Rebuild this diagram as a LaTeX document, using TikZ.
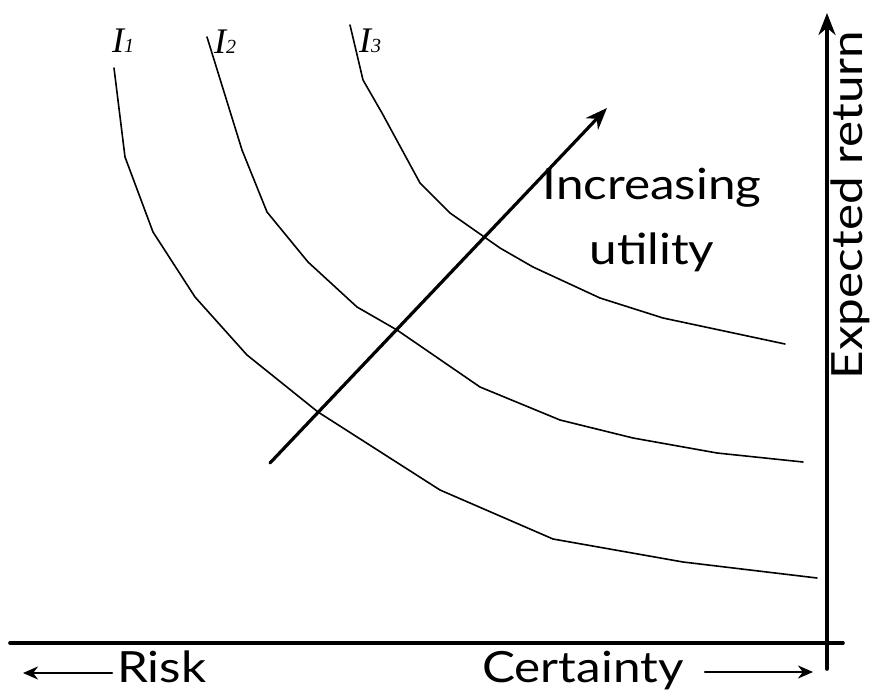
\documentclass[tikz,border=0pt]{standalone}
\usepackage{fontspec}
\setmainfont{Lato}[FakeStretch=1.15]
\newfontfamily\timesfont{Liberation Serif}
\usepackage{tikz}
\usetikzlibrary{arrows.meta}
\usepackage{tkz-euclide}

\tikzset{
  curve/.style={line width=1.6pt, line join=round},
  axisline/.style={line width=3.6pt},
  bigtip/.style={-{Stealth[length=22pt, width=17pt]}},
  smalltip/.style={line width=2.6pt, -{Stealth[length=15pt, width=13pt]}},
  txt/.style={inner sep=0pt, font=\fontsize{43}{60}\selectfont},
  ilabel/.style={anchor=base west, inner sep=0pt, font=\timesfont\itshape\fontsize{36}{38}\selectfont}
}
\newcommand{\indiff}[1]{I{\fontsize{20}{20}\selectfont #1}}

\begin{document}
\begin{tikzpicture}[x=1pt, y=-1pt]
            \useasboundingbox (0,0) rectangle (878,692);
            % indifference curve I1
            \tkzDefPoints{114/68/A_1, 125/157/A_2, 153/232/A_3, 195/297/A_4, 247/355/A_5,
                          318/412/A_6, 440/490/A_7, 553/539/A_8, 683/562/A_9, 817/578/A_10}
            % indifference curve I2
            \tkzDefPoints{207/37/B_1, 242/150/B_2, 267/212/B_3, 308/262/B_4, 357/307/B_5, 397/330/B_6,
                          480/387/B_7, 560/420/B_8, 633/438/B_9, 717/453/B_10, 803/462/B_11}
            % indifference curve I3
            \tkzDefPoints{350/25/C_1, 363/80/C_2, 382/113/C_3, 420/183/C_4, 450/213/C_5,
                          500/248/C_6, 533/267/C_7, 600/298/C_8, 663/318/C_9, 785/344/C_10}
            \tkzDefPoints{270/463/U_1, 607/108/U_2}
            \tkzDefPoints{10/643/H_1, 843/643/H_2, 827/669/V_1, 827/13/V_2}
            \tkzDefPoints{112/673/R_1, 23/673/R_2, 705/672/S_1, 813/672/S_2}
            \tkzDrawPolySeg[curve](A_1,A_2,A_3,A_4,A_5,A_6,A_7,A_8,A_9,A_10)
            \tkzDrawPolySeg[curve](B_1,B_2,B_3,B_4,B_5,B_6,B_7,B_8,B_9,B_10,B_11)
            \tkzDrawPolySeg[curve](C_1,C_2,C_3,C_4,C_5,C_6,C_7,C_8,C_9,C_10)
            \tkzDrawSegment[line width=3.2pt, bigtip](U_1,U_2)
            \tkzDrawSegment[axisline](H_1,H_2)
            \tkzDrawSegment[axisline, bigtip](V_1,V_2)
            \tkzDrawSegments[smalltip](R_1,R_2 S_1,S_2)
            \node[ilabel] (i1) at (112,53) {\indiff{1}};
            \node[ilabel] (i2) at (214,54) {\indiff{2}};
            \node[ilabel] (i3) at (359,53) {\indiff{3}};
            \node[txt, align=center, anchor=base] (util) at (652,265) {Increasing\\[5pt]utility};
            \node[txt, anchor=base west] (risk) at (117,682) {Risk};
            \node[txt, anchor=base west] (cert) at (482,682) {Certainty};
            \node[txt, rotate=90, anchor=base] (ret) at (862,205) {Expected return};
        \end{tikzpicture}
\end{document}
